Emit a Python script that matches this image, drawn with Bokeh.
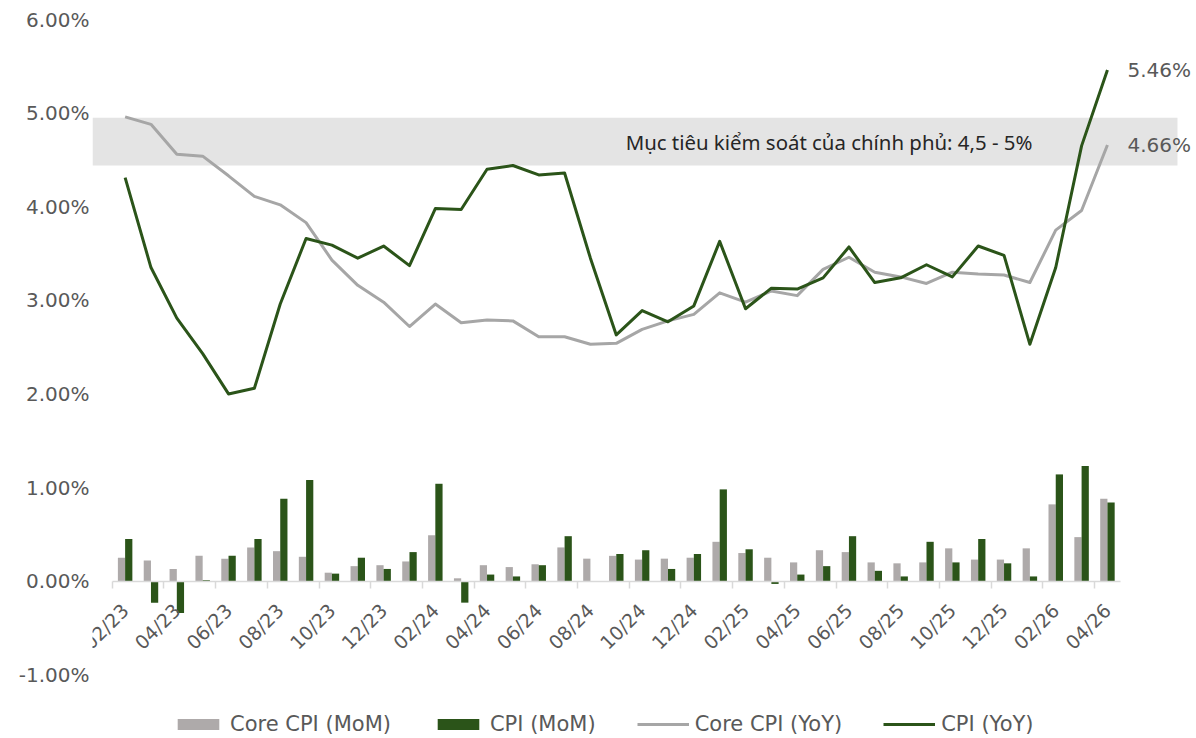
from math import pi
from bokeh.plotting import figure
from bokeh.models import (ColumnDataSource, LinearAxis, FixedTicker, BoxAnnotation,
                          Legend, LegendItem, Range1d)
from bokeh.transform import dodge
from bokeh.core.properties import value
from bokeh.embed import file_html
from bokeh.resources import INLINE

# ---------------- data ----------------
months = ["02/23", "03/23", "04/23", "05/23", "06/23", "07/23", "08/23", "09/23", "10/23",
          "11/23", "12/23", "01/24", "02/24", "03/24", "04/24", "05/24", "06/24", "07/24",
          "08/24", "09/24", "10/24", "11/24", "12/24", "01/25", "02/25", "03/25", "04/25",
          "05/25", "06/25", "07/25", "08/25", "09/25", "10/25", "11/25", "12/25", "01/26",
          "02/26", "03/26", "04/26"]

core_mom = [0.25, 0.22, 0.13, 0.27, 0.24, 0.36, 0.32, 0.26, 0.09, 0.16, 0.17, 0.21, 0.49,
            0.03, 0.17, 0.15, 0.18, 0.36, 0.24, 0.27, 0.23, 0.24, 0.25, 0.42, 0.30, 0.25,
            0.20, 0.33, 0.31, 0.20, 0.19, 0.20, 0.35, 0.23, 0.23, 0.35, 0.82, 0.47, 0.88]

cpi_mom = [0.45, -0.23, -0.34, 0.01, 0.27, 0.45, 0.88, 1.08, 0.08, 0.25, 0.13, 0.31, 1.04,
           -0.23, 0.07, 0.05, 0.17, 0.48, 0.00, 0.29, 0.33, 0.13, 0.29, 0.98, 0.34, -0.03,
           0.07, 0.16, 0.48, 0.11, 0.05, 0.42, 0.20, 0.45, 0.19, 0.05, 1.14, 1.23, 0.84]

core_yoy = [4.96, 4.88, 4.56, 4.54, 4.33, 4.11, 4.02, 3.83, 3.43, 3.16, 2.98, 2.72, 2.96,
            2.76, 2.79, 2.78, 2.61, 2.61, 2.53, 2.54, 2.69, 2.78, 2.85, 3.08, 2.98, 3.10,
            3.05, 3.33, 3.46, 3.30, 3.25, 3.18, 3.30, 3.28, 3.27, 3.19, 3.75, 3.96, 4.66]

cpi_yoy = [4.31, 3.35, 2.81, 2.43, 2.00, 2.06, 2.96, 3.66, 3.59, 3.45, 3.58, 3.37, 3.98,
           3.97, 4.40, 4.44, 4.34, 4.36, 3.45, 2.63, 2.89, 2.77, 2.94, 3.63, 2.91, 3.13,
           3.12, 3.24, 3.57, 3.19, 3.24, 3.38, 3.25, 3.58, 3.48, 2.53, 3.35, 4.65, 5.46]

y_ticks = [-1, 0, 1, 2, 3, 4, 5, 6]
y_tick_labels = ["-1.00%", "0.00%", "1.00%", "2.00%", "3.00%", "4.00%", "5.00%", "6.00%"]

series_names = ["Core CPI (MoM)", "CPI (MoM)", "Core CPI (YoY)", "CPI (YoY)"]
target_band = [4.44, 4.95]          # shaded band as drawn
target_text = "Mục tiêu kiểm soát của chính phủ: 4,5 - 5%"

# ---------------- style ----------------
GRAY_BAR = "#AEAAAA"
GREEN = "#2B5419"
GRAY_LINE = "#A6A6A6"
TXT = "#595959"
FONT = "DejaVu Sans"

idx = list(range(len(months)))
src = ColumnDataSource(dict(x=idx, core_mom=core_mom, cpi_mom=cpi_mom,
                            core_yoy=core_yoy, cpi_yoy=cpi_yoy))

p = figure(width=1194, height=736,
           x_range=Range1d(-1.262, 41.368), y_range=Range1d(-1.66, 6),
           output_backend="svg", toolbar_location=None, x_axis_location=None,
           min_border_left=92, min_border_right=0, min_border_top=19, min_border_bottom=0,
           outline_line_color=None, background_fill_color="white")
p.xgrid.visible = False
p.ygrid.visible = False

# y axis
yax = p.yaxis[0]
yax.ticker = FixedTicker(ticks=y_ticks)
yax.major_label_overrides = {t: l for t, l in zip(y_ticks, y_tick_labels)}
yax.axis_line_color = None
yax.major_tick_line_color = None
yax.minor_tick_line_color = None
yax.major_tick_out = 0
yax.major_tick_in = 0
yax.minor_tick_out = 0
yax.major_label_standoff = 3
yax.major_label_text_font = FONT
yax.major_label_text_font_size = "20px"
yax.major_label_text_color = TXT

# target band
p.add_layout(BoxAnnotation(bottom=target_band[0], top=target_band[1], right=40.71,
                           fill_color="#E4E4E4", fill_alpha=1.0, line_color=None,
                           level="underlay"))
p.text(x=[27.23], y=[sum(target_band) / 2], text=[target_text],
       text_align="center", text_baseline="middle",
       text_font=value("Noto Sans"), text_font_size="20.4px", text_color="#262626")

# bars
r_core_mom = p.vbar(x=dodge("x", -0.14), top="core_mom", width=0.28, source=src,
                    fill_color=GRAY_BAR, line_color=None)
r_cpi_mom = p.vbar(x=dodge("x", 0.14), top="cpi_mom", width=0.28, source=src,
                   fill_color=GREEN, line_color=None)

# lines
r_core_yoy = p.line("x", "core_yoy", source=src, line_color=GRAY_LINE, line_width=3,
                    line_join="round")
r_cpi_yoy = p.line("x", "cpi_yoy", source=src, line_color=GREEN, line_width=3,
                   line_join="round")

# end labels
p.text(x=[idx[-1], idx[-1]], y=[cpi_yoy[-1], core_yoy[-1]],
       text=[f"{cpi_yoy[-1]:.2f}%", f"{core_yoy[-1]:.2f}%"],
       x_offset=20, text_align="left", text_baseline="middle",
       text_font=value(FONT), text_font_size="20px", text_color=TXT)

# category axis (crossing at 0): boundary ticks + labels
bound_ticks = [i - 0.5 for i in idx[::2]]
xticks_ax = LinearAxis(fixed_location=0, ticker=FixedTicker(ticks=bound_ticks),
                       bounds=(-0.5, len(months) - 0.5),
                       major_label_overrides={t: "" for t in bound_ticks},
                       axis_line_color="#D9D9D9", axis_line_width=1.5,
                       major_tick_line_color="#D9D9D9", major_tick_line_width=1.5,
                       major_tick_out=7, major_tick_in=0,
                       minor_tick_line_color=None)
p.add_layout(xticks_ax, "below")

label_ticks = idx[::2]
xlab_ax = LinearAxis(fixed_location=0, ticker=FixedTicker(ticks=label_ticks),
                     major_label_overrides={i: months[i] for i in label_ticks},
                     major_label_orientation=pi / 4, major_label_standoff=20,
                     axis_line_color=None, major_tick_line_color=None,
                     minor_tick_line_color=None,
                     major_label_text_font=FONT, major_label_text_font_size="19px",
                     major_label_text_color=TXT)
p.add_layout(xlab_ax, "below")

# legend
legend = Legend(items=[LegendItem(label=series_names[0], renderers=[r_core_mom]),
                       LegendItem(label=series_names[1], renderers=[r_cpi_mom]),
                       LegendItem(label=series_names[2], renderers=[r_core_yoy]),
                       LegendItem(label=series_names[3], renderers=[r_cpi_yoy])],
                orientation="horizontal", location=(80, 0),
                glyph_width=52, glyph_height=14, label_standoff=6, spacing=41,
                padding=0, margin=0, border_line_color=None, background_fill_alpha=0,
                label_text_font=FONT, label_text_font_size="21px", label_text_color=TXT)
p.add_layout(legend)

open("out.html", "w").write(file_html(p, INLINE))
